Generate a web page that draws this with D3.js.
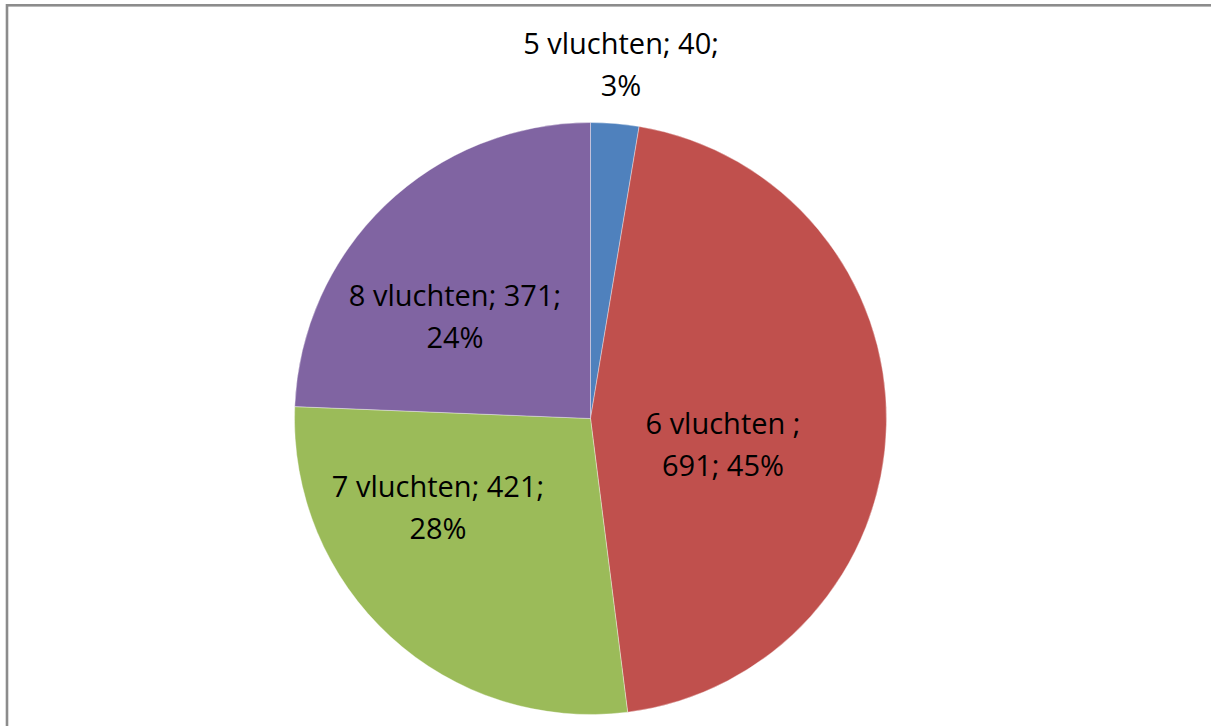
<!DOCTYPE html>
<html>
<head>
<meta charset="utf-8">
<script src="https://cdn.jsdelivr.net/npm/d3@7"></script>
<style>
  html, body { margin: 0; padding: 0; background: #fff; }
  svg { display: block; }
</style>
</head>
<body>
<div id="chart"></div>
<script>
// ---- data ----
const categories = ["5 vluchten", "6 vluchten ", "7 vluchten", "8 vluchten"];
const values = [40, 691, 421, 371];
const colors = ["#4F81BD", "#C0504D", "#9BBB59", "#8064A2"];

// ---- layout (not data) ----
const W = 1211, H = 726;
const cx = 590.5, cy = 418.5, R = 296;
const fontSize = 29, lineGap = 42;
// label anchor (center x, first baseline y) and how many parts on line 1
const labelLayout = [
  { x: 621, y: 54, firstLine: 2 },
  { x: 723, y: 434, firstLine: 1 },
  { x: 438, y: 497, firstLine: 2 },
  { x: 455, y: 306, firstLine: 2 }
];

const svg = d3.select("#chart").append("svg")
  .attr("width", W).attr("height", H);

svg.append("rect").attr("width", W).attr("height", H).attr("fill", "#fff");

// chart border (right/bottom edges fall outside the view)
svg.append("rect")
  .attr("x", 7).attr("y", 5.3)
  .attr("width", W + 20).attr("height", H + 20)
  .attr("fill", "none")
  .attr("stroke", "#8c8c8c")
  .attr("stroke-width", 2.6);

const total = d3.sum(values);
const rows = categories.map((c, i) => ({ cat: c, value: values[i], color: colors[i], i }));

const pie = d3.pie().value(d => d.value).sort(null);
const arc = d3.arc().innerRadius(0).outerRadius(R);

const g = svg.append("g").attr("transform", `translate(${cx},${cy})`);
g.selectAll("path").data(pie(rows)).join("path")
  .attr("d", arc)
  .attr("fill", d => d.data.color)
  .attr("stroke", "rgba(255,255,255,0.45)")
  .attr("stroke-width", 0.8);

// labels
rows.forEach((d, i) => {
  const pct = Math.round(d.value / total * 100);
  const parts = [d.cat, String(d.value), pct + "%"];
  const L = labelLayout[i];
  const line1 = parts.slice(0, L.firstLine).join("; ") + ";";
  const line2 = parts.slice(L.firstLine).join("; ");
  const t = svg.append("text")
    .attr("text-anchor", "middle")
    .attr("font-family", "'Open Sans', sans-serif")
    .attr("font-size", fontSize)
    .attr("fill", "#000");
  t.append("tspan").attr("x", L.x).attr("y", L.y).text(line1);
  t.append("tspan").attr("x", L.x).attr("y", L.y + lineGap).text(line2);
});
</script>
</body>
</html>
